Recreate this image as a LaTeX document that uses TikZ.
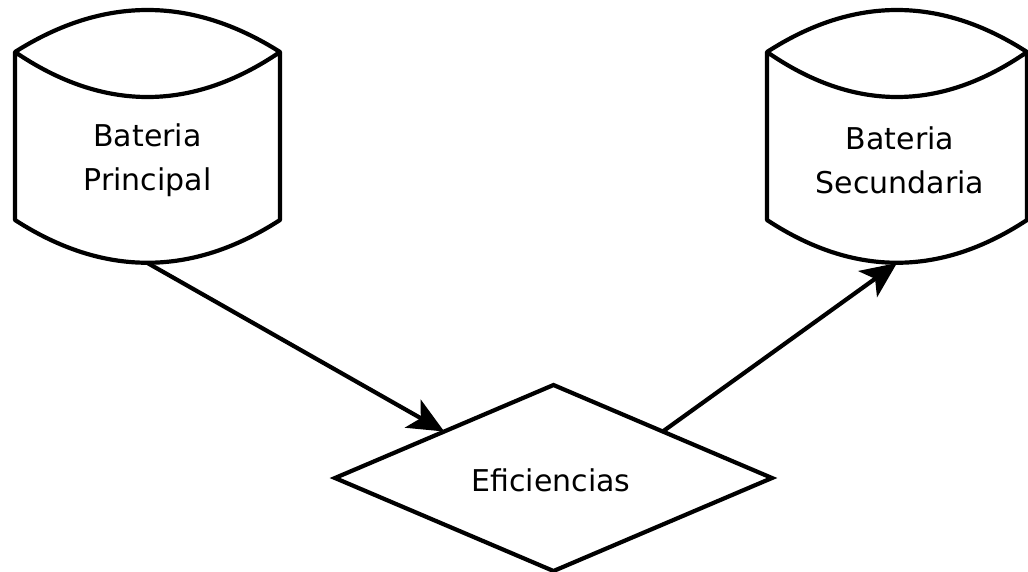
\documentclass[tikz,border=0pt]{standalone}
\usepackage{fontspec}
\setmainfont{DejaVu Sans}
\usetikzlibrary{shapes.geometric,arrows.meta}
\newcommand\batshape[3]{% left x, right x, center x
  \draw[shapeline] (#1,52) .. controls ({#1+2/3*(#3-#1)},-4) and ({#2-2/3*(#2-#3)},-4) .. (#2,52)
    .. controls ({#2-2/3*(#2-#3)},112) and ({#1+2/3*(#3-#1)},112) .. (#1,52)
    -- (#1,220) .. controls ({#1+2/3*(#3-#1)},277) and ({#2-2/3*(#2-#3)},277) .. (#2,220) -- (#2,52);
}
\begin{document}
\begin{tikzpicture}[x=1pt,y=-1pt,
  shapeline/.style={line width=4.2pt,line join=round},
  txt/.style={font=\fontsize{30}{44}\selectfont,align=center,inner sep=0pt},
  holder/.style={rectangle,inner sep=0pt,outer sep=0pt,minimum width=265pt,minimum height=253pt},
  conn/.style={line width=4.2pt,-{Stealth[length=36pt,width=32pt,inset=9pt]}}]
\useasboundingbox (0,0) rectangle (1028,571);
\fill[white] (0,0) rectangle (1028,571);
% battery nodes (outline drawn below)
\node[holder] (bp) at (147.5,136.5) {};
\node[holder,minimum width=260pt] (bs) at (897,136.5) {};
\batshape{15}{280}{147.5}
\batshape{767}{1027}{897}
\node[txt] (bpt) at (147.5,160) {Bateria\\Principal};
\node[txt] (bst) at (900,160) {Bateria\\Secundaria};
% decision
\node[diamond,draw,line width=4.2pt,inner sep=0pt,outer sep=0pt,
      minimum width=437pt,minimum height=186pt] (ef) at (553.5,478) {};
\node[txt] (eft) at (551,480) {Eficiencias};
% connectors
\draw[conn] (bp.south) -- (ef.north west);
\draw[conn] (ef.north east) -- (bs.south);
\end{tikzpicture}
\end{document}
